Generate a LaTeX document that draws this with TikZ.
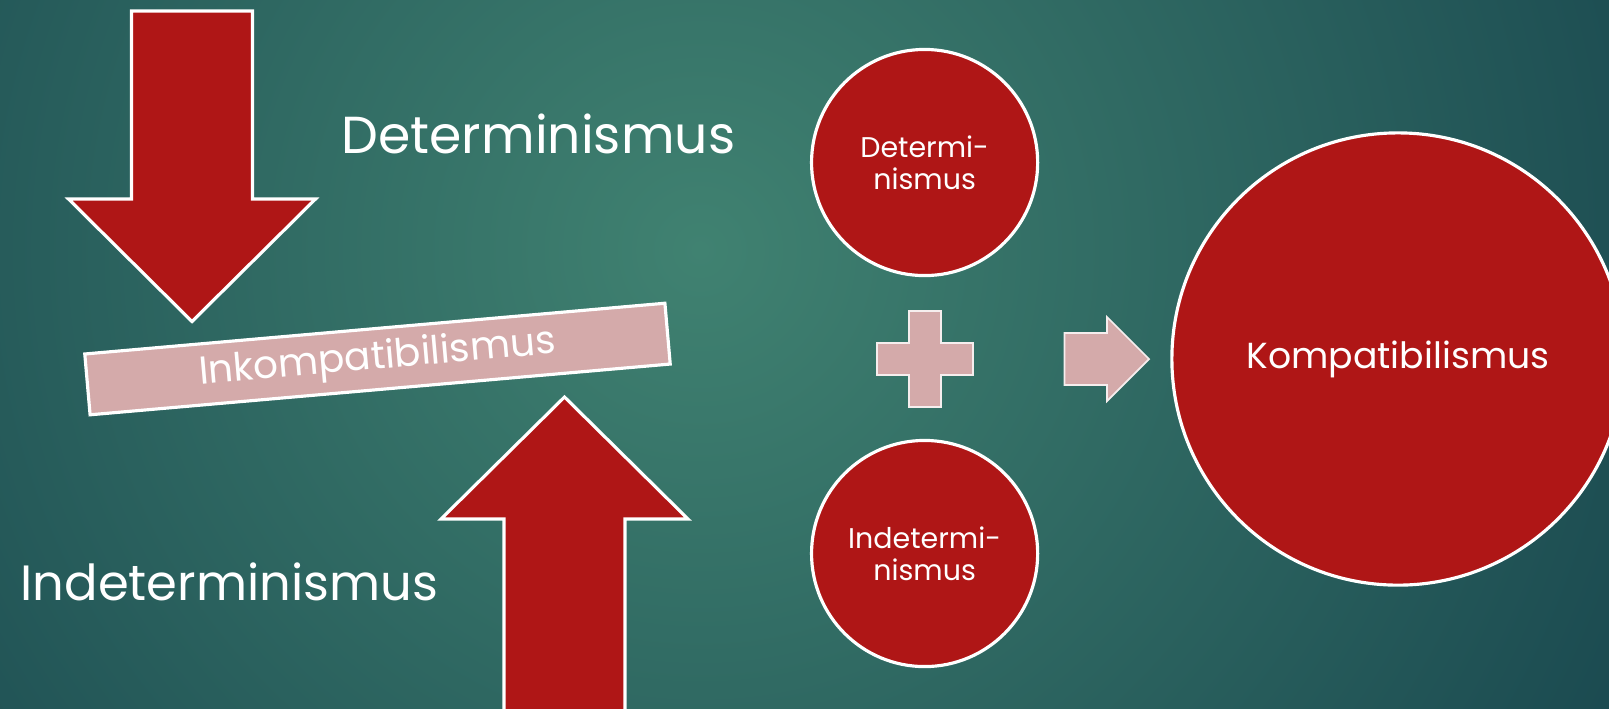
\documentclass[tikz,border=0pt]{standalone}
\usepackage{fontspec}
\setmainfont{Poppins}
\usepackage{tikz}
\definecolor{bgdark}{RGB}{24,70,78}
\definecolor{bglight}{RGB}{64,130,113}
\definecolor{arrowred}{RGB}{175,22,22}
\definecolor{barpink}{RGB}{212,170,170}

\begin{document}
\begin{tikzpicture}[x=0.01cm, y=-0.01cm,
    redarrow/.style={fill=arrowred, draw=white, line width=0.9pt, line join=miter},
    pinkshape/.style={fill=barpink, draw=white!80!barpink, line width=0.5pt},
    ball/.style={circle, fill=arrowred, draw=white, line width=0.9pt, text=white, align=center, inner sep=0pt},
    biglabel/.style={text=white, inner sep=0pt}]

        % background
        \useasboundingbox (0, 0) rectangle (1609, 708);
        \begin{scope}
            \clip (0, 0) rectangle (1609, 708);
            \fill[bgdark] (0, 0) rectangle (1609, 708);
            \shade[inner color=bglight, outer color=bgdark] (700, 250) circle (1100);
        \end{scope}

        % left: two arrows pressing on the bar
        \filldraw[redarrow] (131.5, 11) -- (252.5, 11) -- (252.5, 199) -- (315.5, 199)
            -- (192, 321.5) -- (68.5, 199) -- (131.5, 199) -- cycle;
        \filldraw[redarrow] (504, 716) -- (504, 519) -- (441, 519) -- (564.5, 397)
            -- (688, 519) -- (625, 519) -- (625, 716) -- cycle;

        \node[fill=barpink, draw=white, line width=0.9pt, rotate=5,
              minimum width=5.82cm, minimum height=0.61cm, inner sep=0pt,
              text=white, font=\fontsize{11.1}{14}\selectfont] (inkomp) at (377.5, 359) {Inkompatibilismus\hspace{0.2cm}};

        \node[biglabel, anchor=base west, font=\fontsize{14.8}{18}\selectfont] (det) at (341, 153.5) {Determinismus};
        \node[biglabel, anchor=base west, font=\fontsize{14.1}{18}\selectfont] (indet) at (20, 600.5) {Indeterminismus};

        % right: plus, arrow, circles
        \node[ball, minimum size=2.26cm, font=\fontsize{8.1}{9.2}\selectfont] (detball) at (924.6, 162.5) {Determi-\\nismus};
        \node[ball, minimum size=2.26cm, font=\fontsize{8.1}{9.2}\selectfont] (indetball) at (924.6, 553.5) {Indetermi-\\nismus};
        \node[ball, minimum size=4.52cm, font=\fontsize{10.3}{13}\selectfont] (komp) at (1398, 359) {Kompatibilismus};

        \filldraw[pinkshape] (909, 311) -- (941, 311) -- (941, 343) -- (973, 343) -- (973, 375)
            -- (941, 375) -- (941, 407) -- (909, 407) -- (909, 375) -- (877, 375)
            -- (877, 343) -- (909, 343) -- cycle;
        \filldraw[pinkshape] (1064.5, 333) -- (1107, 333) -- (1107, 317) -- (1149, 359)
            -- (1107, 401) -- (1107, 385) -- (1064.5, 385) -- cycle;
    \end{tikzpicture}
\end{document}
